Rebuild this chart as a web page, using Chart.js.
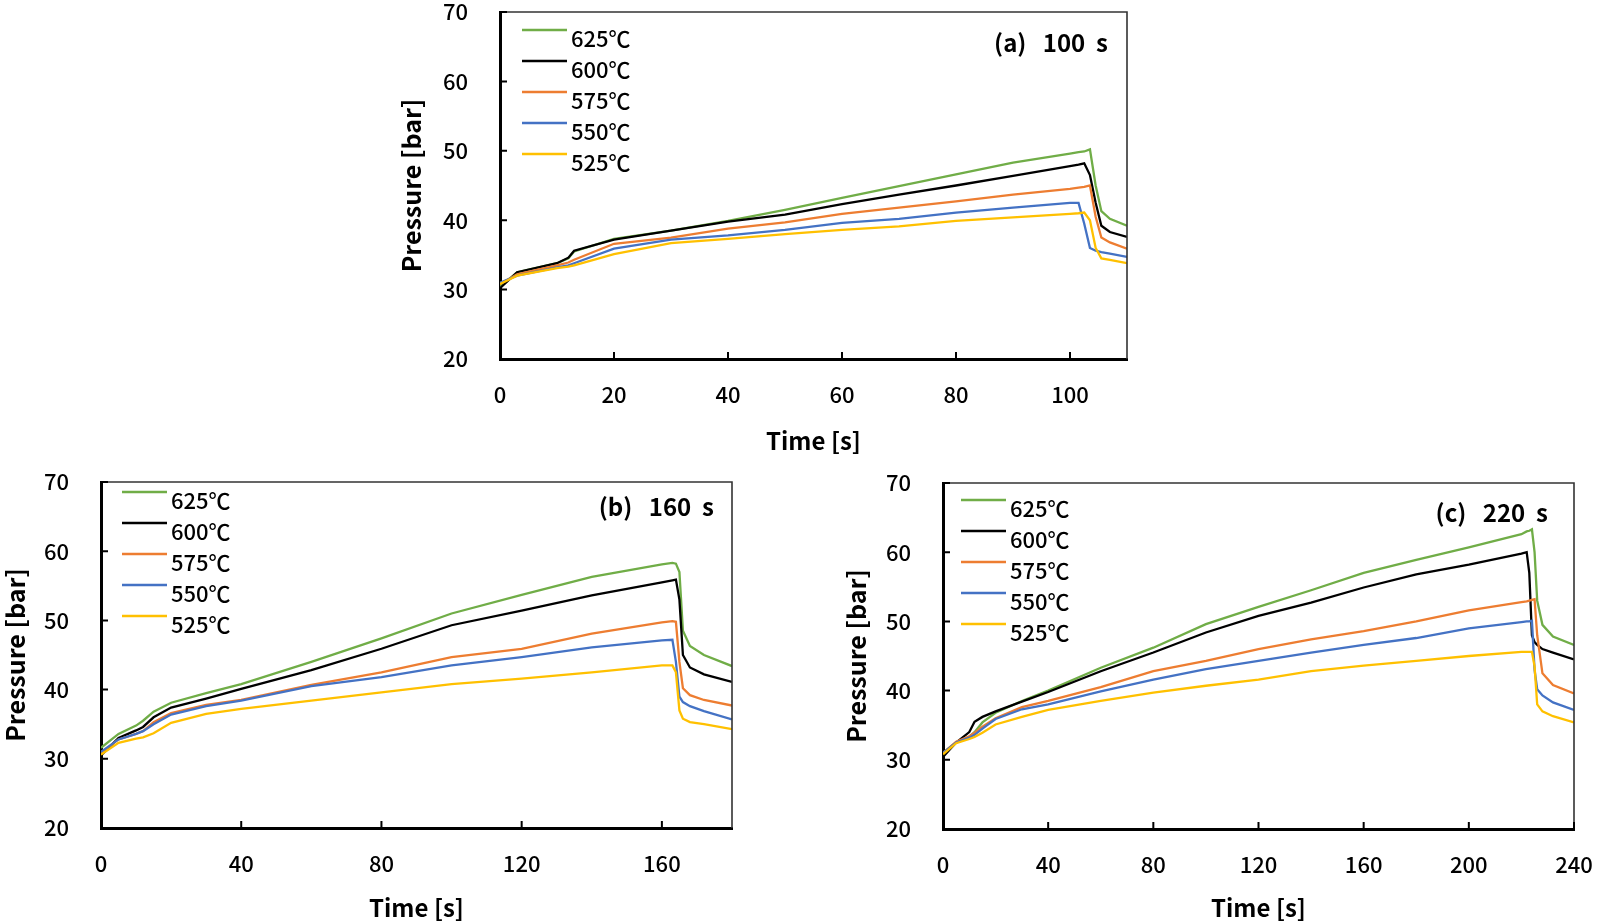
<!DOCTYPE html>
<html>
<head>
<meta charset="utf-8">
<script src="https://cdn.jsdelivr.net/npm/chart.js"></script>
<style>
  body { margin: 0; background: #fff; width: 1599px; height: 922px; overflow: hidden; position: relative; }
  .box { position: absolute; }
</style>
</head>
<body>
<div class="box" style="left:380px;top:0;width:760px;height:460px"><canvas id="chartA"></canvas></div>
<div class="box" style="left:0;top:470px;width:745px;height:452px"><canvas id="chartB"></canvas></div>
<div class="box" style="left:830px;top:470px;width:769px;height:452px"><canvas id="chartC"></canvas></div>
<script>
// legend labels (top to bottom)
const seriesNames = ['625℃', '600℃', '575℃', '550℃', '525℃'];
const yTicks = [20, 30, 40, 50, 60, 70];
const xTicksA = [0, 20, 40, 60, 80, 100];
const xTicksB = [0, 40, 80, 120, 160];
const xTicksC = [0, 40, 80, 120, 160, 200, 240];

// (a) 100 s
const timesA = [0, 3, 10, 12, 13, 20, 30, 40, 50, 60, 70, 80, 90, 100, 101.5, 102.5, 103.5, 104.5, 105.5, 107, 110];
const a625 = [30.4, 32.5, 33.8, 34.5, 35.5, 37.3, 38.5, 39.9, 41.5, 43.2, 44.9, 46.6, 48.3, 49.6, 49.8, 49.9, 50.2, 45.0, 41.3, 40.2, 39.2];
const a600 = [30.2, 32.5, 33.8, 34.6, 35.6, 37.2, 38.5, 39.8, 40.8, 42.3, 43.7, 45.0, 46.4, 47.8, 48.0, 48.2, 46.5, 42.5, 39.2, 38.3, 37.6];
const a575 = [30.8, 32.2, 33.5, 33.9, 34.3, 36.6, 37.5, 38.8, 39.7, 40.9, 41.8, 42.7, 43.7, 44.5, 44.7, 44.8, 45.0, 40.5, 37.5, 36.8, 35.9];
const a550 = [31.0, 32.0, 33.2, 33.5, 33.8, 35.9, 37.2, 37.8, 38.6, 39.6, 40.2, 41.1, 41.8, 42.5, 42.5, 39.5, 36.0, 35.6, 35.4, 35.2, 34.7];
const a525 = [30.8, 32.0, 33.1, 33.3, 33.5, 35.1, 36.7, 37.3, 38.0, 38.6, 39.1, 39.9, 40.4, 40.9, 41.0, 41.1, 40.0, 36.0, 34.5, 34.3, 33.8];

// (b) 160 s
const timesB = [0, 5, 10, 12, 15, 20, 30, 40, 60, 80, 100, 120, 140, 160, 163, 164, 165, 166, 168, 172, 180];
const b625 = [31.6, 33.6, 34.8, 35.5, 36.8, 38.1, 39.5, 40.8, 44.0, 47.4, 51.0, 53.7, 56.3, 58.1, 58.3, 58.2, 57.0, 48.5, 46.3, 45.0, 43.4];
const b600 = [30.5, 33.0, 34.1, 34.6, 36.0, 37.4, 38.7, 40.1, 42.8, 45.9, 49.3, 51.4, 53.6, 55.5, 55.8, 55.9, 53.0, 45.0, 43.2, 42.2, 41.1];
const b575 = [30.9, 32.8, 33.6, 34.0, 35.3, 36.6, 37.8, 38.5, 40.7, 42.5, 44.7, 45.9, 48.1, 49.7, 49.9, 49.8, 44.0, 40.2, 39.2, 38.5, 37.7];
const b550 = [31.0, 32.8, 33.6, 34.0, 35.0, 36.4, 37.6, 38.4, 40.5, 41.8, 43.5, 44.7, 46.1, 47.1, 47.2, 44.0, 39.0, 38.2, 37.6, 36.9, 35.7];
const b525 = [30.6, 32.3, 32.9, 33.1, 33.7, 35.2, 36.5, 37.2, 38.4, 39.6, 40.8, 41.6, 42.5, 43.5, 43.5, 42.5, 37.0, 35.8, 35.3, 35.0, 34.3];

// (c) 220 s
const timesC = [0, 5, 10, 12, 15, 20, 30, 40, 60, 80, 100, 120, 140, 160, 180, 200, 220, 222, 223, 224, 225, 226, 228, 232, 240];
const c625 = [31.0, 32.5, 33.3, 34.0, 35.4, 36.8, 38.5, 40.0, 43.3, 46.2, 49.6, 52.1, 54.5, 57.0, 58.9, 60.7, 62.6, 63.0, 63.1, 63.3, 60.0, 53.0, 49.5, 47.8, 46.6];
const c600 = [30.4, 32.5, 34.0, 35.5, 36.2, 37.0, 38.4, 39.8, 42.8, 45.5, 48.4, 50.8, 52.7, 54.9, 56.8, 58.2, 59.8, 60.0, 57.0, 48.0, 47.0, 46.6, 46.0, 45.5, 44.5];
const c575 = [31.0, 32.6, 33.4, 33.9, 34.8, 36.0, 37.6, 38.5, 40.5, 42.8, 44.3, 46.0, 47.4, 48.6, 50.0, 51.6, 52.8, 52.9, 53.0, 53.1, 53.2, 48.0, 42.5, 40.8, 39.6];
const c550 = [31.0, 32.5, 33.2, 33.6, 34.5, 35.9, 37.3, 38.0, 39.9, 41.6, 43.1, 44.3, 45.5, 46.6, 47.6, 49.0, 49.9, 50.0, 50.0, 50.1, 43.0, 40.2, 39.3, 38.3, 37.2];
const c525 = [30.8, 32.4, 33.0, 33.3, 33.9, 35.1, 36.2, 37.2, 38.5, 39.7, 40.7, 41.6, 42.8, 43.6, 44.3, 45.0, 45.6, 45.6, 45.6, 45.6, 43.5, 38.0, 37.0, 36.3, 35.4];

const colors = ['#70AD47', '#000000', '#ED7D31', '#4472C4', '#FFC000'];
const FONT = "'Noto Sans CJK KR', 'Noto Sans', sans-serif";

// thin top/right frame and short inward tick marks
const framePlugin = {
  id: 'frame',
  afterDraw(chart) {
    const {ctx, chartArea: a, scales} = chart;
    ctx.save();
    ctx.strokeStyle = '#333';
    ctx.lineWidth = 1.6;
    ctx.beginPath();
    ctx.moveTo(a.left, a.top); ctx.lineTo(a.right, a.top); ctx.lineTo(a.right, a.bottom);
    ctx.stroke();
    ctx.strokeStyle = '#000';
    ctx.lineWidth = 2;
    ctx.beginPath();
    scales.x.ticks.forEach(t => {
      const x = scales.x.getPixelForValue(t.value);
      ctx.moveTo(x, a.bottom); ctx.lineTo(x, a.bottom - 7);
    });
    scales.y.ticks.forEach(t => {
      const y = scales.y.getPixelForValue(t.value);
      ctx.moveTo(a.left, y); ctx.lineTo(a.left + 7, y);
    });
    ctx.stroke();
    ctx.restore();
  }
};

// Excel-style legend inside the plot, plus the panel tag
const insidePlugin = {
  id: 'inside',
  afterDraw(chart, args, opts) {
    const {ctx, chartArea: a} = chart;
    ctx.save();
    ctx.font = "500 22px " + FONT;
    ctx.textBaseline = 'middle';
    ctx.textAlign = 'left';
    chart.data.datasets.forEach((ds, i) => {
      const x = a.left + opts.lx, y = a.top + opts.ly + i * 31;
      ctx.strokeStyle = ds.borderColor;
      ctx.lineWidth = 2.5;
      ctx.beginPath(); ctx.moveTo(x, y); ctx.lineTo(x + 45, y); ctx.stroke();
      ctx.fillStyle = '#000';
      ctx.fillText(ds.label, x + 49, y + 9);
    });
    ctx.font = "bold 24px " + FONT;
    ctx.textAlign = 'right';
    ctx.fillText(opts.tag, a.right - opts.tx, a.top + opts.ty);
    ctx.restore();
  }
};

function makeChart(id, times, values, xTicks, cfg) {
  const datasets = values.map((v, i) => ({
    label: seriesNames[i],
    data: times.map((t, k) => ({x: t, y: v[k]})),
    borderColor: colors[i],
    borderWidth: 2.3,
    pointRadius: 0,
    tension: 0,
    fill: false,
    order: values.length - i
  }));
  return new Chart(document.getElementById(id), {
    type: 'line',
    data: {datasets},
    options: {
      responsive: true,
      maintainAspectRatio: false,
      animation: false,
      layout: {padding: {top: cfg.padTop, right: cfg.padRight, left: 0, bottom: 0}},
      plugins: {
        legend: {display: false},
        tooltip: {enabled: false},
        inside: {lx: cfg.lx, ly: cfg.ly, tag: cfg.tag, tx: cfg.tx, ty: cfg.ty}
      },
      scales: {
        x: {
          type: 'linear', min: 0, max: cfg.xMax,
          afterBuildTicks: s => { s.ticks = xTicks.map(v => ({value: v})); },
          ticks: {color: '#000', padding: 22, font: {family: FONT, size: 22, weight: '500'}},
          grid: {display: false, drawTicks: false},
          border: {display: true, color: '#000', width: 3},
          title: {display: true, text: 'Time [s]', color: '#000', font: {family: FONT, size: 24, weight: 'bold'}, padding: {top: 0, bottom: cfg.xtPad}},
          afterFit: s => { s.height = cfg.xHeight; s.paddingLeft = 0; s.paddingRight = 0; }
        },
        y: {
          min: 20, max: 70,
          afterBuildTicks: s => { s.ticks = yTicks.map(v => ({value: v})); },
          ticks: {color: '#000', padding: 32, font: {family: FONT, size: 22, weight: '500'}},
          grid: {display: false, drawTicks: false},
          border: {display: true, color: '#000', width: 3},
          title: {display: true, text: 'Pressure [bar]', color: '#000', font: {family: FONT, size: 25, weight: 'bold'}, padding: {top: cfg.ytPad, bottom: 0}},
          afterFit: s => { s.width = cfg.yWidth; s.paddingTop = 0; s.paddingBottom = 0; }
        }
      }
    },
    plugins: [framePlugin, insidePlugin]
  });
}

makeChart('chartA', timesA, [a625, a600, a575, a550, a525], xTicksA, {
  xMax: 110, padTop: 12, padRight: 13, yWidth: 120, xHeight: 101,
  ytPad: 16, xtPad: 5, lx: 22, ly: 18, tag: '(a)   100  s', tx: 19, ty: 31
});
makeChart('chartB', timesB, [b625, b600, b575, b550, b525], xTicksB, {
  xMax: 180, padTop: 12, padRight: 13, yWidth: 101, xHeight: 94,
  ytPad: 0, xtPad: 0, lx: 21, ly: 10, tag: '(b)   160  s', tx: 18, ty: 25
});
makeChart('chartC', timesC, [c625, c600, c575, c550, c525], xTicksC, {
  xMax: 240, padTop: 13, padRight: 25, yWidth: 113, xHeight: 93,
  ytPad: 11, xtPad: 0, lx: 18, ly: 17, tag: '(c)   220  s', tx: 26, ty: 30
});
</script>
</body>
</html>
